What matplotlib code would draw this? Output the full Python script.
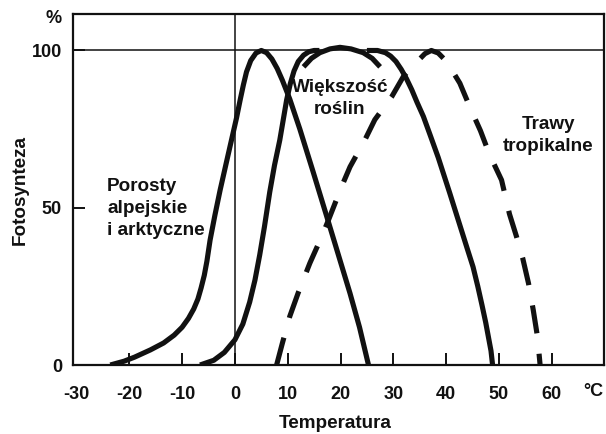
import matplotlib
matplotlib.use("Agg")
import matplotlib.pyplot as plt

plt.rcParams['font.family'] = ['Liberation Sans', 'DejaVu Sans']
plt.rcParams['font.weight'] = 'bold'

# ---- data ----
xticks = [-30, -20, -10, 0, 10, 20, 30, 40, 50, 60]
xticklabels = ['-30', '-20', '-10', '0', '10', '20', '30', '40', '50', '60']
yticks = [0, 50, 100]
yticklabels = ['0', '50', '100']

# Porosty alpejskie i arktyczne (solid)
lichen_t = [-23.6, -21, -19, -16, -13.5, -11.5, -10, -8.8, -7.8, -7.0, -6.4, -5.8,
            -5.3, -4.7, -3.8, -2.8, -1.6, -0.5, 0.3, 1.0, 1.6, 2.2, 3.0, 4.0, 5.0,
            6.0, 7.0, 8.0, 9.0, 10.4, 12.3, 14.8, 17.4, 19.6, 21.8, 23.6, 25.3]
lichen_v = [0, 1.2, 2.5, 4.8, 7, 9.5, 12, 14.8, 17.8, 21, 24.5, 28.5,
            33, 39.7, 47.5, 55.6, 64.5, 72.6, 78.5, 84.3, 89, 93.2, 96.8, 99.2, 100,
            99.3, 97.3, 94.3, 90.5, 84.5, 75, 61.5, 47.2, 35, 22.8, 12, 0]

# Większość roślin (solid): rising part and falling part
most_rise_t = [-6.6, -4, -2, 0, 1.5, 2.8, 3.8, 4.7, 5.6, 6.6, 7.5, 8.5, 9.8, 10.5,
               11.2, 12.0, 13.0, 14.0, 15.0, 16.0]
most_rise_v = [0, 1.5, 4, 8, 13, 20, 27, 35, 44, 55, 63.5, 71.5, 84.3, 89.5,
               93.5, 96.5, 98.5, 99.6, 100, 100]
most_fall_t = [25.0, 27.0, 28.5, 29.5, 30.5, 31.5, 32.5, 33.5, 34.5, 35.7, 37.0, 38.5,
               40.7, 42.5, 44.0, 45.1, 46.0, 46.8, 47.5, 48.0, 48.5, 48.8]
most_fall_v = [100, 100, 99.3, 98.2, 96.5, 94, 91, 87.5, 83.5, 79, 73, 66,
               54.6, 45, 37, 31.2, 25, 19, 13.5, 9, 4.5, 0]

# arc at the top of "Większość roślin"
arc_t = [13.0, 14.5, 16.1, 18, 19.9, 22, 24.3, 26, 27.5]
arc_v = [94.8, 97.5, 99.3, 100.5, 101, 100.5, 99.3, 97.5, 94.8]

# Trawy tropikalne (dashed)
trop_t = [7.9, 9.0, 10.4, 12.0, 14.2, 16.4, 17.7, 20.2, 21.8, 24.6, 26.5, 29.7, 31.9,
          33.5, 35.0, 36.0, 37.2, 38.5, 39.5, 41.0, 42.6, 44.5, 46.5, 48.2, 50.5,
          52.0, 53.3, 54.5, 55.6, 56.5, 57.3, 57.8]
trop_v = [0, 7, 15.5, 23, 32.4, 40.7, 46, 56.7, 63, 71.5, 78, 85.3, 91.7,
          94.8, 97.3, 99, 100, 99.2, 97.5, 94, 89.6, 82, 74.5, 67, 58.8,
          48, 41, 34, 26, 17.5, 9, 0]

labels = {
    'lichen': 'Porosty\nalpejskie\ni arktyczne',
    'most': 'Większość\nroślin',
    'trop': 'Trawy\ntropikalne',
}

W, H = 606, 434
fig = plt.figure(figsize=(W / 100, H / 100), dpi=100)
ax = fig.add_axes([73 / W, 69 / H, 531 / W, 351 / H])
ax.set_xlim(-30.66, 69.9)
ax.set_ylim(0, 111.6)

ink = '#111111'
lw = 3.7
solid = dict(color=ink, lw=lw, solid_joinstyle='round', solid_capstyle='butt')
ax.plot(lichen_t, lichen_v, **solid)
ax.plot(most_rise_t, most_rise_v, **solid)
ax.plot(most_fall_t, most_fall_v, **solid)
ax.plot(arc_t, arc_v, **solid)
ax.plot(trop_t, trop_v, color=ink, lw=lw, dashes=(5.5, 4.0), dash_capstyle='butt',
        dash_joinstyle='round')

# reference lines
ax.axhline(100, color=ink, lw=1.1)
ax.axvline(0, color=ink, lw=1.1)

for s in ax.spines.values():
    s.set_linewidth(1.6)
    s.set_color(ink)

ax.set_xticks(xticks)
ax.set_xticklabels(xticklabels)
ax.set_yticks(yticks)
ax.set_yticklabels(yticklabels)
ax.tick_params(axis='both', direction='in', length=8.5, width=1.4, colors=ink,
               labelsize=13)
ax.tick_params(axis='x', pad=15)
ax.tick_params(axis='y', pad=8)
ax.xaxis.get_major_ticks()[0].tick1line.set_visible(False)

fs = 13.6
ax.text(-24.2, 49.8, labels['lichen'], ha='left', va='center', fontsize=fs,
        fontweight='bold', color=ink, linespacing=1.38)
ax.text(19.9, 84.6, labels['most'], ha='center', va='center', fontsize=fs,
        fontweight='bold', color=ink, linespacing=1.38)
ax.text(59.3, 73.1, labels['trop'], ha='center', va='center', fontsize=fs,
        fontweight='bold', color=ink, linespacing=1.38)

fig.text(62 / W, 1 - 18.5 / H, '%', ha='right', va='center', fontsize=13,
         fontweight='bold', color=ink)
fig.text(593.5 / W, 1 - 391.5 / H, '°C', ha='center', va='center', fontsize=13,
         fontweight='bold', color=ink)
fig.text(335.5 / W, 1 - 424 / H, 'Temperatura', ha='center', va='center',
         fontsize=13.6, fontweight='bold', color=ink)
fig.text(20.5 / W, 1 - 190 / H, 'Fotosynteza', ha='center', va='center',
         rotation=90, fontsize=13.6, fontweight='bold', color=ink)

fig.savefig('out.png', dpi=100, facecolor='white')
